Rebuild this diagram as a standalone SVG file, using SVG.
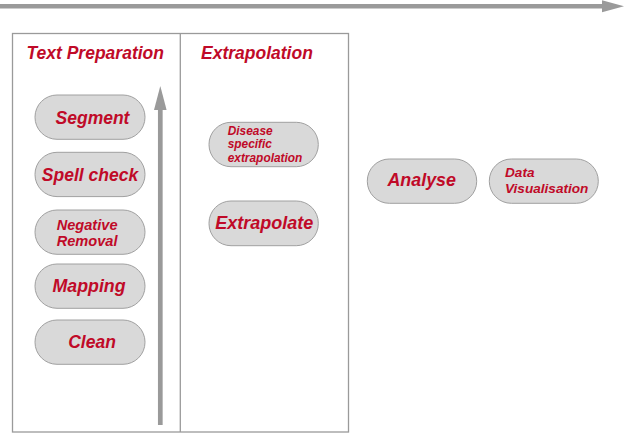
<svg xmlns="http://www.w3.org/2000/svg" width="625" height="433" viewBox="0 0 625 433">
<style>
.pill{fill:#d9d9d9;stroke:#a0a0a0;stroke-width:1}
.t{font-family:"Liberation Sans",Arial,sans-serif;font-weight:bold;font-style:italic;fill:#c00a28}
.frame{fill:none;stroke:#9a9a9a;stroke-width:1.3}
.arr{stroke:#9a9a9a}
.head{fill:#9a9a9a}
</style>
<rect width="625" height="433" fill="#fff"/>
<g id="frame">
<rect class="frame" x="12.5" y="33.5" width="336" height="398.5"/>
<line class="frame" x1="180.3" y1="33.5" x2="180.3" y2="432"/>
</g>
<g id="connectors">
<line class="arr" x1="0" y1="6.3" x2="604" y2="6.3" stroke-width="4.5"/>
<polygon class="head" points="602,0.3 624,6.3 602,12.3"/>
<line class="arr" x1="160.3" y1="425" x2="160.3" y2="108" stroke-width="4.7"/>
<polygon class="head" points="154,110 160.3,86 166.6,110"/>
</g>
<g id="headers">
<text class="t" x="26.5" y="59.3" font-size="17.5">Text Preparation</text>
<text class="t" x="201" y="59.3" font-size="17.5">Extrapolation</text>
</g>
<g id="segment">
<rect class="pill" x="35" y="95" width="110" height="44.3" rx="22"/>
<text class="t" x="92.5" y="124" font-size="17.5" text-anchor="middle">Segment</text>
</g>
<g id="spellcheck">
<rect class="pill" x="35" y="152.3" width="110" height="44.3" rx="22"/>
<text class="t" x="90" y="180.7" font-size="17.5" text-anchor="middle">Spell check</text>
</g>
<g id="negative">
<rect class="pill" x="35" y="210" width="110" height="44.3" rx="22"/>
<text class="t" x="56.7" y="230" font-size="14.6">Negative</text>
<text class="t" x="56.7" y="246" font-size="14.6">Removal</text>
</g>
<g id="mapping">
<rect class="pill" x="35" y="264" width="110" height="44.3" rx="22"/>
<text class="t" x="89" y="292" font-size="17.8" text-anchor="middle">Mapping</text>
</g>
<g id="clean">
<rect class="pill" x="35" y="320" width="110" height="44.3" rx="22"/>
<text class="t" x="92" y="347.7" font-size="17.5" text-anchor="middle">Clean</text>
</g>
<g id="disease">
<rect class="pill" x="209" y="122.3" width="109.3" height="44.4" rx="22"/>
<text class="t" x="227.7" y="134.5" font-size="11.9">Disease</text>
<text class="t" x="227.7" y="148" font-size="11.9">specific</text>
<text class="t" x="227.7" y="161.5" font-size="11.9">extrapolation</text>
</g>
<g id="extrapolate">
<rect class="pill" x="209" y="201" width="109.3" height="44.7" rx="22"/>
<text class="t" x="264.2" y="229" font-size="18" text-anchor="middle">Extrapolate</text>
</g>
<g id="analyse">
<rect class="pill" x="367.3" y="159" width="109.4" height="44.3" rx="22"/>
<text class="t" x="421.7" y="186" font-size="17.9" text-anchor="middle">Analyse</text>
</g>
<g id="datavis">
<rect class="pill" x="489.3" y="159" width="109" height="44.3" rx="22"/>
<text class="t" x="505" y="176.7" font-size="13.6">Data</text>
<text class="t" x="505" y="192.7" font-size="13.6">Visualisation</text>
</g>
</svg>
